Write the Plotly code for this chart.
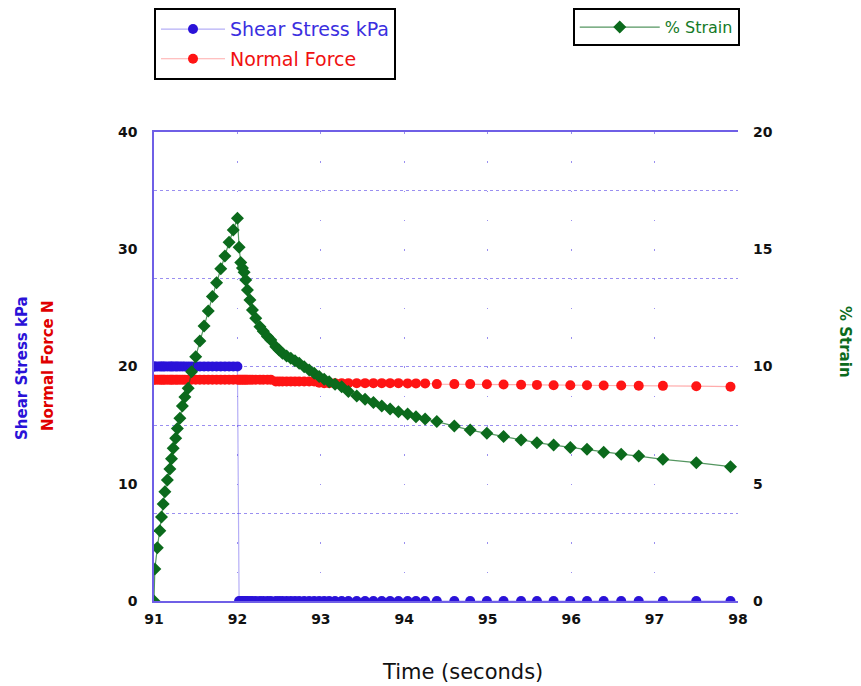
import plotly.graph_objects as go

# ---- data ----
time_s = [
    91.00, 91.01, 91.04, 91.07, 91.09, 91.11, 91.13, 91.16, 91.19, 91.21,
    91.23, 91.26, 91.28, 91.31, 91.34, 91.37, 91.41, 91.45, 91.50, 91.55,
    91.60, 91.65, 91.70, 91.75, 91.80, 91.85, 91.90, 91.95, 92.00,
    92.02, 92.04, 92.06, 92.08, 92.10, 92.12, 92.15, 92.18, 92.22, 92.27,
    92.31, 92.36, 92.40, 92.46, 92.50, 92.54, 92.59, 92.64, 92.69, 92.74,
    92.80, 92.86, 92.92, 92.98, 93.04, 93.10, 93.17, 93.25, 93.33, 93.43,
    93.53, 93.63, 93.73, 93.83, 93.93, 94.04, 94.14, 94.25, 94.39, 94.60,
    94.79, 94.99, 95.19, 95.40, 95.59, 95.79, 95.99, 96.19, 96.39, 96.60,
    96.81, 97.10, 97.50, 97.91,
]

shear_kpa = [20.0] * 29 + [0.0] * 54

normal_force = (
    [18.88] * 29
    + [18.88, 18.88, 18.88, 18.88, 18.88, 18.88, 18.88, 18.88, 18.88, 18.88,
       18.88, 18.88, 18.88, 18.72, 18.72, 18.72, 18.72, 18.72, 18.72, 18.72,
       18.72, 18.72, 18.72, 18.62, 18.58, 18.58, 18.58, 18.58, 18.58, 18.58,
       18.58, 18.58, 18.58, 18.58, 18.58, 18.56, 18.56, 18.56, 18.50, 18.50,
       18.50, 18.48, 18.46, 18.45, 18.43, 18.40, 18.40, 18.40, 18.38, 18.38,
       18.36, 18.35, 18.32, 18.28]
)

strain_pct = [
    0.00, 1.36, 2.27, 3.00, 3.58, 4.14, 4.66, 5.16, 5.63, 6.07,
    6.51, 6.94, 7.36, 7.79, 8.32, 8.70, 9.07, 9.78, 10.42, 11.09,
    11.73, 12.37, 12.98, 13.57, 14.17, 14.71, 15.30, 15.82, 16.32,
    15.08, 14.44, 14.20, 14.02, 13.69, 13.26, 12.84, 12.41, 12.06, 11.70,
    11.50, 11.28, 11.13, 10.84, 10.70, 10.56, 10.45, 10.35, 10.24, 10.14,
    9.99, 9.85, 9.71, 9.57, 9.46, 9.35, 9.24, 9.14, 8.93, 8.74,
    8.60, 8.46, 8.32, 8.19, 8.07, 7.97, 7.86, 7.76, 7.65, 7.46,
    7.29, 7.15, 7.01, 6.87, 6.75, 6.65, 6.55, 6.47, 6.34, 6.26,
    6.18, 6.04, 5.90, 5.73,
]

x_ticks = [91, 92, 93, 94, 95, 96, 97, 98]
y_left_ticks = [0, 10, 20, 30, 40]
y_right_ticks = [0, 5, 10, 15, 20]
h_grid_vals = [7.5, 15, 20, 27.5, 35]

BLUE = "#2a12d8"
RED = "#ff1414"
GREEN = "#0b6a1c"
AXIS = "#6f5fe6"
GRID = "#9a8ff0"
FONT = "DejaVu Sans, Arial, sans-serif"

fig = go.Figure()

fig.add_trace(go.Scatter(
    x=time_s, y=shear_kpa, mode="lines+markers",
    name="<span style='color:#3b2fe0'>Shear Stress kPa</span>",
    line=dict(color="rgba(90,75,235,0.45)", width=1.2),
    marker=dict(symbol="circle", size=10, color=BLUE),
    legend="legend", legendgroup="a",
))
fig.add_trace(go.Scatter(
    x=time_s, y=normal_force, mode="lines+markers",
    name="<span style='color:#f01010'>Normal Force</span>",
    line=dict(color="rgba(255,90,90,0.5)", width=1.2),
    marker=dict(symbol="circle", size=10, color=RED),
    legend="legend", legendgroup="b",
))
fig.add_trace(go.Scatter(
    x=time_s, y=strain_pct, mode="lines+markers", yaxis="y2",
    name="<span style='color:#157a28'>% Strain</span>",
    line=dict(color="rgba(11,106,28,0.7)", width=1.2),
    marker=dict(symbol="diamond", size=10, color=GREEN),
    legend="legend2",
))

tickfont = dict(family=FONT, size=14, color="#111111", weight="bold")

fig.update_layout(
    width=861, height=686,
    margin=dict(l=154, r=123, t=132, b=85, autoexpand=False),
    paper_bgcolor="white", plot_bgcolor="white",
    font=dict(family=FONT),
    xaxis=dict(
        range=[91, 98], tickvals=x_ticks, tickfont=tickfont,
        showline=True, linecolor=AXIS, linewidth=1.5, mirror=True,
        showgrid=True, gridcolor=GRID, gridwidth=1, griddash="1.5px,27.8px",
        zeroline=False, ticks="", ticklabelstandoff=4,
    ),
    yaxis=dict(
        range=[0, 40], tickvals=y_left_ticks, tickfont=tickfont,
        showline=True, linecolor=AXIS, linewidth=1.5,
        showgrid=False, zeroline=False, ticks="", ticklabelstandoff=12,
        minor=dict(tickvals=h_grid_vals, showgrid=True, gridcolor=GRID,
                   gridwidth=1, griddash="dot", ticks=""),
    ),
    yaxis2=dict(
        range=[0, 20], tickvals=y_right_ticks, tickfont=tickfont,
        overlaying="y", side="right", showline=False, showgrid=False,
        zeroline=False, ticks="", ticklabelstandoff=14,
    ),
    legend=dict(
        x=0.0, y=1.264, xanchor="left", yanchor="top",
        bgcolor="white", bordercolor="black", borderwidth=2,
        font=dict(family=FONT, size=19), tracegroupgap=2,
        itemwidth=64,
    ),
    legend2=dict(
        x=1.003, y=1.264, xanchor="right", yanchor="top",
        bgcolor="white", bordercolor="black", borderwidth=2,
        font=dict(family=FONT, size=16), itemwidth=80,
    ),
    showlegend=True,
    annotations=[
        dict(text="Time (seconds)", xref="paper", yref="paper",
             x=(462 - 154) / 584, y=(601 - 672) / 469, showarrow=False,
             xanchor="center", yanchor="middle",
             font=dict(family=FONT, size=21, color="#111111")),
        dict(text="<b>Shear Stress kPa</b>", xref="paper", yref="paper",
             x=(22 - 154) / 584, y=(601 - 368) / 469, textangle=-90,
             xanchor="center", yanchor="middle",
             showarrow=False, font=dict(family=FONT, size=15, color=BLUE)),
        dict(text="<b>Normal Force N</b>", xref="paper", yref="paper",
             x=(48 - 154) / 584, y=(601 - 366) / 469, textangle=-90,
             xanchor="center", yanchor="middle",
             showarrow=False, font=dict(family=FONT, size=15, color="#e00000")),
        dict(text="<b>% Strain</b>", xref="paper", yref="paper",
             x=(845 - 154) / 584, y=(601 - 342) / 469, textangle=90,
             xanchor="center", yanchor="middle",
             showarrow=False, font=dict(family=FONT, size=15, color=GREEN)),
    ],
)

fig.write_html("out.html")
